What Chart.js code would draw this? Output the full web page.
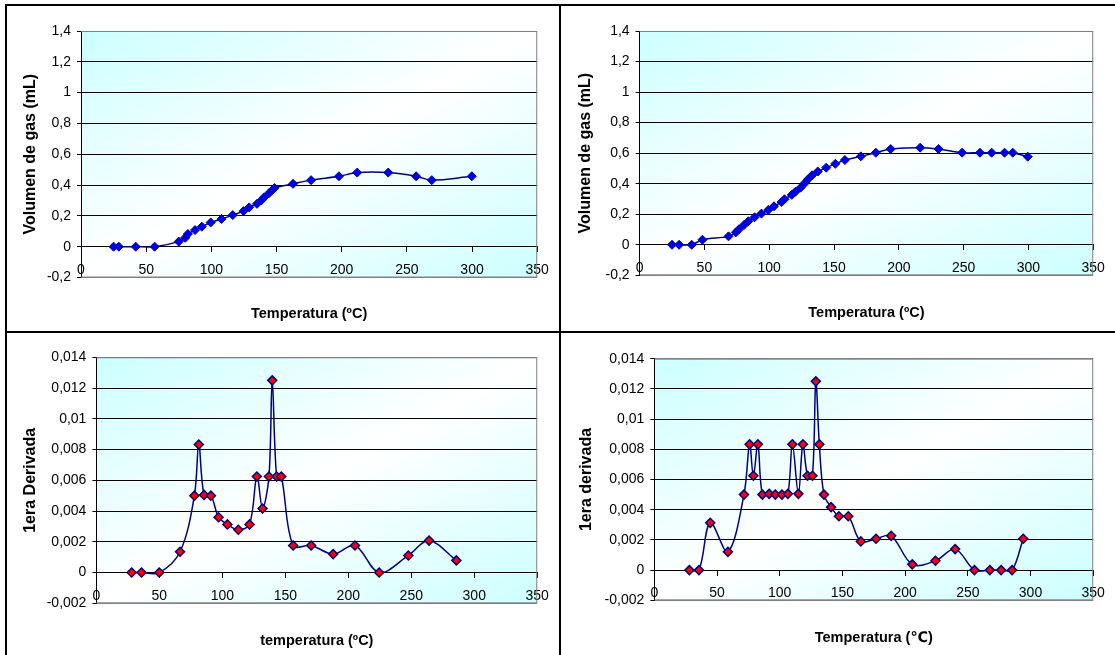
<!DOCTYPE html>
<html>
<head>
<meta charset="utf-8">
<script src="https://cdn.jsdelivr.net/npm/chart.js@4.4.1/dist/chart.umd.min.js"></script>
<style>
  html, body { margin: 0; padding: 0; background: #fff; }
  #page { position: relative; width: 1115px; height: 655px; overflow: hidden; }
  .rule { position: absolute; background: #000; }
  canvas { position: absolute; }
</style>
</head>
<body>
<div id="page">
  <div class="rule" style="left:5px;top:4px;width:1110px;height:2px"></div>
  <div class="rule" style="left:5px;top:4px;width:2px;height:651px"></div>
  <div class="rule" style="left:559px;top:4px;width:2px;height:651px"></div>
  <div class="rule" style="left:5px;top:331px;width:1110px;height:2px"></div>
  <canvas id="volChart1" width="552" height="325" style="left:7px;top:6px"></canvas>
  <canvas id="volChart2" width="554" height="325" style="left:561px;top:6px"></canvas>
  <canvas id="derChart1" width="552" height="322" style="left:7px;top:333px"></canvas>
  <canvas id="derChart2" width="554" height="322" style="left:561px;top:333px"></canvas>
</div>
<script>
// axis ticks
const tempTicks = [0, 50, 100, 150, 200, 250, 300, 350];
const volTicks = [-0.2, 0, 0.2, 0.4, 0.6, 0.8, 1, 1.2, 1.4];
const derTicks = [-0.002, 0, 0.002, 0.004, 0.006, 0.008, 0.01, 0.012, 0.014];

// volumen de gas, muestra 1
const tempVol1 = [25, 29, 42, 56.5, 75, 80, 82, 87.5, 92.7, 99.5, 107.8, 116.4, 124.7, 129, 135, 138.3, 140.4, 144.2, 146.8, 148.4, 162.7, 176.5, 197.9, 211.9, 235.7, 257.1, 269.1, 299.8];
const vol1 = [0, 0, 0, 0, 0.033, 0.058, 0.082, 0.108, 0.13, 0.157, 0.18, 0.205, 0.231, 0.255, 0.278, 0.3, 0.32, 0.347, 0.368, 0.381, 0.408, 0.432, 0.457, 0.481, 0.481, 0.457, 0.432, 0.457];

// volumen de gas, muestra 2
const tempVol2 = [25, 30.5, 40.2, 48.5, 68.6, 74.2, 76.6, 80.6, 83.9, 88.7, 94, 99.3, 103.7, 109.5, 111.8, 117.4, 120.2, 124.2, 127.6, 129.8, 133.1, 137.5, 144, 151, 158.4, 170.7, 182.3, 193.7, 216.5, 230.6, 248.8, 262.6, 271.6, 281.6, 287.9, 299.5];
const vol2 = [0, 0, 0, 0.033, 0.055, 0.081, 0.101, 0.13, 0.154, 0.18, 0.204, 0.228, 0.252, 0.28, 0.298, 0.327, 0.347, 0.374, 0.405, 0.428, 0.455, 0.48, 0.505, 0.53, 0.555, 0.579, 0.603, 0.627, 0.636, 0.627, 0.603, 0.603, 0.603, 0.603, 0.603, 0.577];

// 1era derivada, muestra 1
const tempDer1 = [28, 35.8, 49.9, 66.4, 77.8, 81.3, 85.5, 90.9, 97, 104, 112.7, 121.6, 127.4, 131.9, 137, 139.6, 143.1, 146.8, 156.2, 170.5, 188, 205.3, 224.5, 247.7, 264.1, 285.8];
const der1 = [0, 0, 0, 0.00135, 0.005, 0.00833, 0.00505, 0.005, 0.0036, 0.00313, 0.00278, 0.00313, 0.00625, 0.00417, 0.00625, 0.0125, 0.00625, 0.00625, 0.00176, 0.00176, 0.0012, 0.00176, 0, 0.00111, 0.00208, 0.00079];

// 1era derivada, muestra 2
const tempDer2 = [28, 35.6, 44.6, 58.7, 71.5, 76, 79, 82.6, 86.2, 91.6, 96.5, 101.8, 106.5, 110.1, 114.9, 118.5, 122.2, 126.1, 128.8, 131.6, 135.3, 141, 147.2, 154.7, 164.7, 176.8, 188.9, 205.7, 224.2, 239.9, 255.3, 267.6, 276.6, 285.3, 294.2];
const der2 = [0, 0, 0.00313, 0.00121, 0.005, 0.00833, 0.00625, 0.00833, 0.005, 0.00505, 0.005, 0.005, 0.00505, 0.00833, 0.00505, 0.00833, 0.00625, 0.00625, 0.0125, 0.00833, 0.005, 0.00417, 0.00357, 0.00357, 0.0019, 0.00208, 0.00227, 0.00038, 0.00062, 0.00139, 0, 0, 0, 0, 0.00208];

Chart.defaults.font.family = "'Liberation Sans', Arial, 'DejaVu Sans', sans-serif";
Chart.defaults.color = '#000';

// gradient fill + grey frame of the plot area (Excel style)
const plotFrame = {
    id: 'plotFrame',
    beforeDraw(chart) {
        const { ctx, chartArea: a } = chart;
        const w = a.right - a.left, h = a.bottom - a.top;
        const k = (w * h) / (w * w + h * h);
        const cx = (a.left + a.right) / 2, cy = (a.top + a.bottom) / 2;
        const g = ctx.createLinearGradient(cx - h * k, cy - w * k, cx + h * k, cy + w * k);
        g.addColorStop(0, '#ccffff');
        g.addColorStop(0.5, '#ffffff');
        g.addColorStop(1, '#ccffff');
        ctx.save();
        ctx.fillStyle = g;
        ctx.fillRect(a.left, a.top, w, h);
        ctx.restore();
    },
    beforeDatasetsDraw(chart) {
        const { ctx, chartArea: a } = chart;
        ctx.save();
        ctx.strokeStyle = '#808080';
        ctx.lineWidth = 1;
        ctx.beginPath();
        ctx.moveTo(a.left, a.top + 0.5);
        ctx.lineTo(a.right - 0.5, a.top + 0.5);
        ctx.lineTo(a.right - 0.5, a.bottom - 0.5);
        ctx.lineTo(a.left, a.bottom - 0.5);
        ctx.stroke();
        ctx.restore();
    },
};

function comma(v) {
    return String(Math.round(v * 1e6) / 1e6).replace('.', ',');
}

function buildChart(id, xs, ys, yTicks, yTitle, xTitle, marker, box) {
    const yMin = yTicks[0];
    const yMax = yTicks[yTicks.length - 1];
    return new Chart(document.getElementById(id), {
        type: 'scatter',
        data: {
            datasets: [{
                data: xs.map((x, i) => ({ x: x, y: ys[i] })),
                showLine: true,
                tension: 0.35,
                borderColor: '#000080',
                borderWidth: 1.5,
                pointStyle: 'rectRot',
                pointRadius: 4.5,
                pointBackgroundColor: marker.fill,
                pointBorderColor: marker.stroke,
                pointBorderWidth: marker.width,
            }],
        },
        options: {
            responsive: false,
            animation: false,
            events: [],
            layout: {
                padding: { left: 0, top: box.top, right: box.right, bottom: box.bottom },
            },
            plugins: {
                legend: { display: false },
                tooltip: { enabled: false },
            },
            scales: {
                x: {
                    type: 'linear',
                    min: 0,
                    max: 350,
                    position: { y: 0 },
                    afterBuildTicks: (s) => { s.ticks = tempTicks.map(v => ({ value: v })); },
                    grid: { drawOnChartArea: false, drawTicks: true, tickLength: 5, color: '#000' },
                    border: { color: '#000', width: 1 },
                    ticks: {
                        padding: 10.1,
                        maxRotation: 0,
                        autoSkip: false,
                        font: { size: 14 },
                        callback: v => String(v),
                    },
                    title: {
                        display: true,
                        text: xTitle,
                        font: { size: 14.5, weight: 'bold' },
                        padding: { top: box.xTitlePad, bottom: 0 },
                    },
                },
                y: {
                    type: 'linear',
                    min: yMin,
                    max: yMax,
                    afterBuildTicks: (s) => { s.ticks = yTicks.map(v => ({ value: v })); },
                    afterFit: (s) => { s.width = box.left; },
                    grid: {
                        color: c => (c.tick && (c.tick.value === yMin || c.tick.value === yMax)) ? '#808080' : '#000',
                        tickColor: '#000',
                        tickLength: 4,
                    },
                    border: { color: '#000', width: 1 },
                    ticks: {
                        padding: 6,
                        font: { size: 14 },
                        callback: v => comma(v),
                    },
                    title: {
                        display: true,
                        text: yTitle,
                        font: { size: 16, weight: 'bold' },
                        padding: { top: box.yTitlePad, bottom: 0 },
                    },
                },
            },
        },
        plugins: [plotFrame],
    });
}

const blueMarker = { fill: '#0000e0', stroke: '#0000c0', width: 1 };
const redMarker = { fill: '#ff0000', stroke: '#000080', width: 1.5 };

buildChart('volChart1', tempVol1, vol1, volTicks, 'Volumen de gas (mL)', 'Temperatura (ºC)', blueMarker,
    { left: 74, top: 25, right: 21.5, bottom: 53.5, yTitlePad: 14.4, xTitlePad: 16.7 });
buildChart('volChart2', tempVol2, vol2, volTicks, 'Volumen de gas (mL)', 'Temperatura (ºC)', blueMarker,
    { left: 78.6, top: 25, right: 14.6, bottom: 55.7, yTitlePad: 15.4, xTitlePad: 17.7 });
buildChart('derChart1', tempDer1, der1, derTicks, '1era Derivada', 'temperatura (ºC)', redMarker,
    { left: 89.4, top: 24.3, right: 20.4, bottom: 51.7, yTitlePad: 14.4, xTitlePad: 18.1 });
buildChart('derChart2', tempDer2, der2, derTicks, '1era derivada', 'Temperatura (℃)', redMarker,
    { left: 93.3, top: 25.7, right: 14.6, bottom: 54.7, yTitlePad: 16.4, xTitlePad: 17.4 });
</script>
</body>
</html>
